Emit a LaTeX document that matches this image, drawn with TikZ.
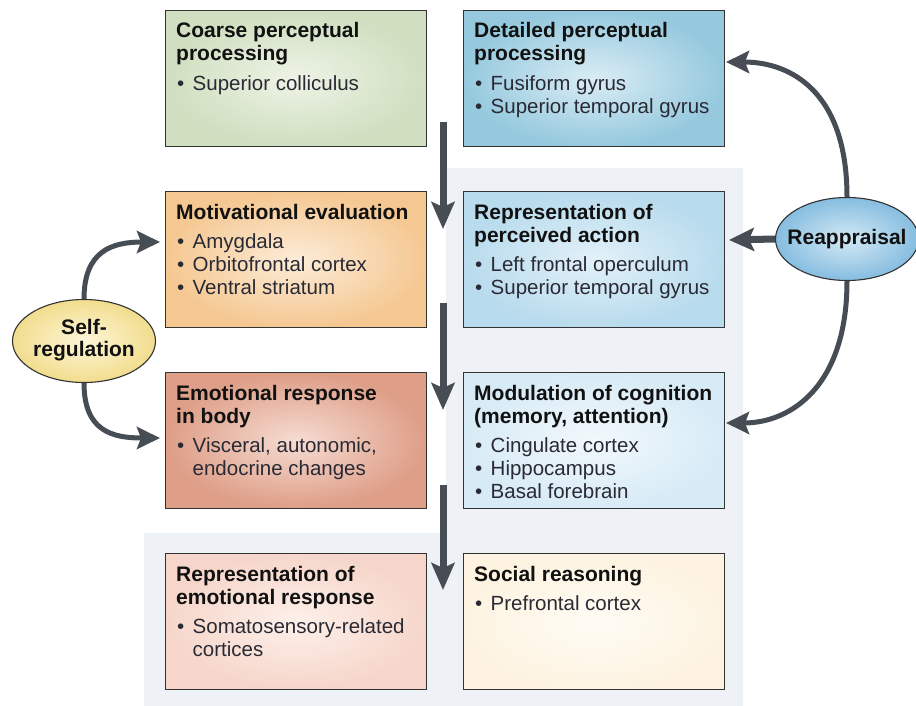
\documentclass[tikz,border=0pt]{standalone}
\usepackage{fontspec}
\setmainfont{Liberation Sans}
\usetikzlibrary{arrows.meta,shapes.geometric,calc}

\definecolor{arrowc}{HTML}{474D54}
\definecolor{panel}{HTML}{EEF1F6}
\definecolor{bordc}{HTML}{333333}
\definecolor{txtc}{HTML}{2A2A35}
\definecolor{ttlc}{HTML}{111111}

\newcommand\ttl[1]{\hbox{\fontsize{21}{23}\bfseries\selectfont\color{ttlc}#1}}
\newcommand\itm[1]{\hbox{\fontsize{20.5}{23}\selectfont\color{txtc}\hspace*{1pt}\makebox[15.5pt][l]{\textbullet}#1}}
\newcommand\cnt[1]{\hbox{\fontsize{20.5}{23}\selectfont\color{txtc}\hspace*{16.5pt}#1}}
\newcommand\gp{\vskip6.5pt}
\newcommand\blk[1]{\vtop{\baselineskip=23pt\lineskiplimit=-20pt\lineskip=0pt #1}}

\tikzset{
  boxnode/.style={draw=bordc, line width=1.2pt, rectangle, anchor=north west,
    minimum width=261pt, minimum height=136pt, inner sep=0pt},
  txtnode/.style={anchor=base west, inner sep=0pt},
  ellnode/.style={ellipse, draw=bordc, line width=1.1pt, minimum width=143pt,
    minimum height=83pt, inner sep=0pt},
  elltext/.style={inner sep=0pt, align=center,
    font=\fontsize{21}{22}\bfseries\selectfont, text=ttlc},
  bigarrow/.style={draw=arrowc, line width=7pt,
    -{Stealth[length=27pt,width=23pt,inset=5pt]}},
  curvarrow/.style={draw=arrowc, line width=5pt,
    -{Stealth[length=23pt,width=22pt,inset=4pt]}},
}

\begin{document}
\begin{tikzpicture}[x=1pt,y=-1pt]
\useasboundingbox (0,0) rectangle (916,706);
\fill[white] (0,0) rectangle (916,706);

% background panels
\fill[panel] (446,168) rectangle (743,706);
\fill[panel] (144,533) rectangle (743,706);

% boxes
\node[boxnode, inner color={rgb,255:red,238;green,243;blue,230}, outer color={rgb,255:red,207;green,223;blue,192}] (b1) at (165,10) {};
\node[boxnode, inner color={rgb,255:red,218;green,237;blue,245}, outer color={rgb,255:red,150;green,201;blue,222}] (b2) at (463,10) {};
\node[boxnode, inner color={rgb,255:red,252;green,236;blue,216}, outer color={rgb,255:red,245;green,200;blue,146}] (b3) at (165,191) {};
\node[boxnode, inner color={rgb,255:red,227;green,241;blue,249}, outer color={rgb,255:red,184;green,219;blue,237}] (b4) at (463,191) {};
\node[boxnode, inner color={rgb,255:red,246;green,220;blue,210}, outer color={rgb,255:red,222;green,158;blue,135}] (b5) at (165,372) {};
\node[boxnode, inner color={rgb,255:red,242;green,248;blue,252}, outer color={rgb,255:red,215;green,235;blue,246}] (b6) at (463,372) {};
\node[boxnode, inner color={rgb,255:red,253;green,240;blue,234}, outer color={rgb,255:red,246;green,214;blue,202}] (b7) at (165,553) {};
\node[boxnode, inner color={rgb,255:red,255;green,252;blue,245}, outer color={rgb,255:red,253;green,243;blue,224}] (b8) at (463,553) {};

% texts
\node[txtnode] (t1) at ($(b1.north west)+(11,28)$) {\blk{\ttl{Coarse perceptual}\ttl{processing}\gp\itm{Superior colliculus}}};
\node[txtnode] (t2) at ($(b2.north west)+(11,28)$) {\blk{\ttl{Detailed perceptual}\ttl{processing}\gp\itm{Fusiform gyrus}\itm{Superior temporal gyrus}}};
\node[txtnode] (t3) at ($(b3.north west)+(11,28)$) {\blk{\ttl{Motivational evaluation}\gp\itm{Amygdala}\itm{Orbitofrontal cortex}\itm{Ventral striatum}}};
\node[txtnode] (t4) at ($(b4.north west)+(11,28)$) {\blk{\ttl{Representation of}\ttl{perceived action}\gp\itm{Left frontal operculum}\itm{Superior temporal gyrus}}};
\node[txtnode] (t5) at ($(b5.north west)+(11,28)$) {\blk{\ttl{Emotional response}\ttl{in body}\gp\itm{Visceral, autonomic,}\cnt{endocrine changes}}};
\node[txtnode] (t6) at ($(b6.north west)+(11,28)$) {\blk{\ttl{Modulation of cognition}\ttl{(memory, attention)}\gp\itm{Cingulate cortex}\itm{Hippocampus}\itm{Basal forebrain}}};
\node[txtnode] (t7) at ($(b7.north west)+(11,28)$) {\blk{\ttl{Representation of}\ttl{emotional response}\gp\itm{Somatosensory-related}\cnt{cortices}}};
\node[txtnode] (t8) at ($(b8.north west)+(11,28)$) {\blk{\ttl{Social reasoning}\gp\itm{Prefrontal cortex}}};

% vertical flow arrows
\coordinate (v1s) at (443,122); \coordinate (v1e) at (443,229);
\coordinate (v2s) at (443,303); \coordinate (v2e) at (443,410);
\coordinate (v3s) at (443,485); \coordinate (v3e) at (443,590);
\draw[bigarrow] (v1s) -- (v1e);
\draw[bigarrow] (v2s) -- (v2e);
\draw[bigarrow] (v3s) -- (v3e);

% ellipses
\node[ellnode, inner color={rgb,255:red,212;green,233;blue,245}, outer color={rgb,255:red,134;green,189;blue,224}] (reap) at (847,239) {};
\node[elltext] (reapt) at (reap.center) {Reappraisal};
\node[ellnode, inner color={rgb,255:red,253;green,246;blue,216}, outer color={rgb,255:red,242;green,221;blue,142}] (self) at (84,341) {};
\node[elltext] (selft) at ($(self.center)+(0,-1)$) {Self-\\regulation};

% reappraisal arrows
\coordinate (r1) at (726,62);
\coordinate (r2) at (729,240);
\coordinate (r3) at (726,423);
\draw[curvarrow] (reap.north) .. controls +(0,-105) and +(65,0) .. (r1);
\draw[bigarrow, -{Stealth[length=25pt,width=23pt,inset=5pt]}] (reap.west) -- (r2);
\draw[curvarrow] (reap.south) .. controls +(0,105) and +(65,0) .. (r3);

% self-regulation arrows
\coordinate (s1) at (160,242);
\coordinate (s2) at (160,438);
\draw[curvarrow] (self.north) .. controls +(0,-48) and +(-48,0) .. (s1);
\draw[curvarrow] (self.south) .. controls +(0,48) and +(-48,0) .. (s2);
\end{tikzpicture}
\end{document}
